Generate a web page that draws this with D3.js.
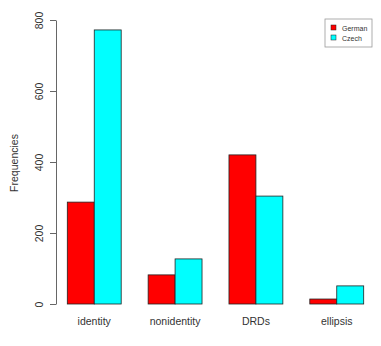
<!DOCTYPE html>
<html lang="en">
<head>
<meta charset="UTF-8">
<title>Frequencies</title>
<style>
  body { margin: 0; background: #fff; }
  text { font-family: "Liberation Sans", Arial, sans-serif; fill: #333; }
</style>
</head>
<body>
<svg id="graph"></svg>
<script src="https://d3js.org/d3.v7.min.js"></script>
<script>
const categories = ['identity', 'nonidentity', 'DRDs', 'ellipsis'];
const series = ['German', 'Czech'];
const german = [287, 82, 420, 14];
const czech = [772, 127, 304, 51];
const colors = ['#ff0000', '#00ffff'];
const yTicks = [0, 200, 400, 600, 800];

const width = 381;
const height = 346;

const svg = d3.select('#graph')
  .attr('width', width)
  .attr('height', height);

const xScale = d3.scaleBand()
  .domain(categories)
  .range([67.3, 363.7])
  .paddingInner(1 / 3)
  .paddingOuter(0);

const xSub = d3.scaleBand()
  .domain(series)
  .range([0, xScale.bandwidth()]);

const yScale = d3.scaleLinear()
  .domain([0, 800])
  .range([304, 20]);

const colorScale = d3.scaleOrdinal().domain(series).range(colors);

const rows = categories.map((c, i) => ({ cat: c, vals: [german[i], czech[i]] }));

// bars
const groups = svg.selectAll('.grp')
  .data(rows)
  .enter().append('g')
  .attr('class', 'grp')
  .attr('transform', d => `translate(${xScale(d.cat)},0)`);

groups.selectAll('rect')
  .data(d => series.map((s, j) => ({ s: s, v: d.vals[j] })))
  .enter().append('rect')
  .attr('x', d => xSub(d.s))
  .attr('y', d => yScale(d.v))
  .attr('width', xSub.bandwidth())
  .attr('height', d => yScale(0) - yScale(d.v))
  .style('fill', d => colorScale(d.s))
  .style('stroke', '#222')
  .style('stroke-width', 0.8);

// y axis
const yAxis = svg.append('g')
  .attr('transform', 'translate(56,0)')
  .call(d3.axisLeft(yScale).tickValues(yTicks).tickSize(6).tickSizeOuter(0));
yAxis.select('.domain').attr('stroke', '#666');
yAxis.selectAll('.tick line').attr('stroke', '#666');
yAxis.selectAll('.tick text')
  .attr('font-size', 10.5)
  .attr('fill', '#333')
  .attr('x', 0)
  .attr('dy', 0)
  .attr('transform', 'translate(-13,0) rotate(-90)')
  .style('text-anchor', 'middle');

// x labels
const xAxis = svg.append('g')
  .attr('transform', 'translate(0,304)')
  .call(d3.axisBottom(xScale).tickSize(0));
xAxis.select('.domain').remove();
xAxis.selectAll('.tick text')
  .attr('font-size', 10.5)
  .attr('fill', '#333')
  .attr('y', 14)
  .attr('dy', '0.71em');

// y label
svg.append('text')
  .attr('transform', 'translate(18,163) rotate(-90)')
  .attr('text-anchor', 'middle')
  .attr('font-size', 10.5)
  .text('Frequencies');

// legend
const legend = svg.append('g').attr('transform', 'translate(325,19)');
legend.append('rect')
  .attr('width', 47)
  .attr('height', 28)
  .attr('fill', '#fff')
  .attr('stroke', '#999')
  .attr('stroke-width', 0.8);
series.forEach((s, i) => {
  legend.append('rect')
    .attr('x', 6)
    .attr('y', 6 + i * 10)
    .attr('width', 5)
    .attr('height', 5)
    .attr('fill', colorScale(s))
    .attr('stroke', '#222')
    .attr('stroke-width', 0.5);
  legend.append('text')
    .attr('x', 17)
    .attr('y', 11.5 + i * 10)
    .attr('font-size', 7)
    .text(s);
});
</script>
</body>
</html>
